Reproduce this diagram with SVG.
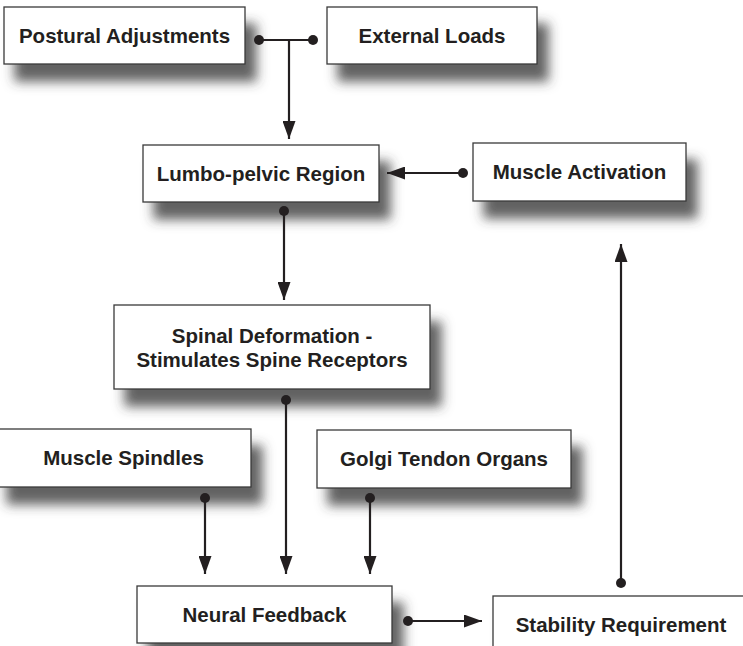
<svg xmlns="http://www.w3.org/2000/svg" width="743" height="646" viewBox="0 0 743 646">
<style>
.box{fill:#fff;stroke:#3a3a3a;stroke-width:1.3;filter:url(#sh)}
.t{font-family:"Liberation Sans",Arial,Helvetica,sans-serif;font-weight:bold;font-size:20.5px;fill:#231f20;text-anchor:middle}
.c{fill:none;stroke:#231f20;stroke-width:2.2;marker-start:url(#dot)}
.a{marker-end:url(#arr)}
</style>
<defs>
<filter id="sh" x="-20%" y="-30%" width="150%" height="190%">
<feDropShadow dx="11" dy="17" stdDeviation="6" flood-color="#3a3a3a" flood-opacity="0.8"/>
</filter>
<marker id="arr" viewBox="0 0 18 13" markerWidth="18" markerHeight="13" refX="18" refY="6.5" orient="auto" markerUnits="userSpaceOnUse">
<path d="M0,0 L18,6.5 L0,13 Z" fill="#231f20"/>
</marker>
<marker id="dot" viewBox="0 0 10 10" markerWidth="10" markerHeight="10" refX="5" refY="5" orient="auto" markerUnits="userSpaceOnUse">
<circle cx="5" cy="5" r="5" fill="#231f20"/>
</marker>
</defs>
<rect width="743" height="646" fill="#fff"/>
<g id="nodes">
<g id="postural"><rect class="box" x="4" y="7" width="241" height="57"/><text class="t" x="124.5" y="43">Postural Adjustments</text></g>
<g id="external"><rect class="box" x="327" y="7" width="210" height="57"/><text class="t" x="432" y="43">External Loads</text></g>
<g id="lumbo"><rect class="box" x="143" y="145" width="236" height="57"/><text class="t" x="261" y="181">Lumbo-pelvic Region</text></g>
<g id="activation"><rect class="box" x="473" y="143" width="213" height="58"/><text class="t" x="579.5" y="179">Muscle Activation</text></g>
<g id="spinal"><rect class="box" x="114" y="305" width="316" height="84"/><text class="t" x="272" y="343">Spinal Deformation -</text><text class="t" x="272" y="367">Stimulates Spine Receptors</text></g>
<g id="spindles"><rect class="box" x="-4" y="429" width="255" height="58"/><text class="t" x="123.5" y="465">Muscle Spindles</text></g>
<g id="golgi"><rect class="box" x="317" y="430" width="254" height="58"/><text class="t" x="444" y="466">Golgi Tendon Organs</text></g>
<g id="neural"><rect class="box" x="137" y="586" width="255" height="57"/><text class="t" x="264.5" y="622">Neural Feedback</text></g>
<g id="stability"><rect class="box" x="493" y="596" width="270" height="70"/><text class="t" x="621" y="632">Stability Requirement</text></g>
</g>
<g id="connectors">
<path class="c" d="M259,40 H313"/>
<circle cx="313" cy="40" r="5" fill="#231f20"/>
<path class="a" d="M289,40 V139" fill="none" stroke="#231f20" stroke-width="2.2"/>
<path class="c a" d="M463,173 H387"/>
<path class="c a" d="M284,211 V300"/>
<path class="c a" d="M286,400 V574"/>
<path class="c a" d="M205,498 V574"/>
<path class="c a" d="M370,498 V574"/>
<path class="c a" d="M408,621 H482"/>
<path class="c a" d="M621,583 V244"/>
</g>
</svg>
